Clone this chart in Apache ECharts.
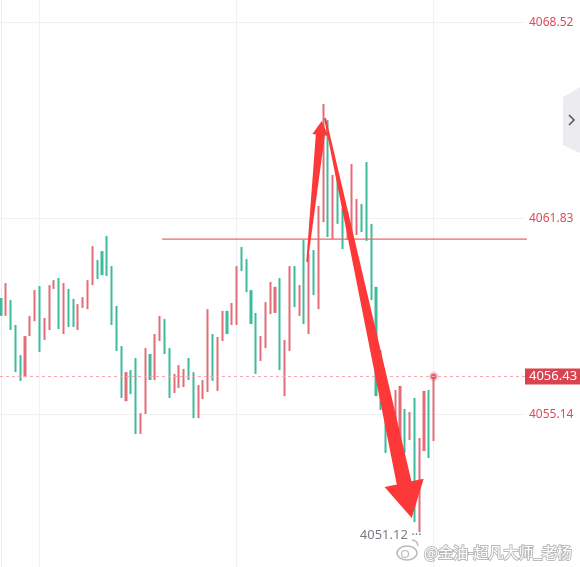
<!DOCTYPE html>
<html>
<head>
<meta charset="utf-8">
<title>黄金 K线</title>
<script src="https://cdn.jsdelivr.net/npm/echarts@6/dist/echarts.min.js"></script>
<style>
html, body { margin: 0; padding: 0; background: #fff; }
#kline { width: 580px; height: 567px; }
</style>
</head>
<body>
<div id="kline"></div>
<script>
var byId = function(id) {
	return document.getElementById(id);
};

// K线 开盘/收盘 (红涨绿跌)
var opens = [4059.11, 4058.50, 4059.04, 4058.19, 4057.16, 4056.41, 4057.81, 4058.32, 4059.52, 4057.68,
	4058.02, 4059.42, 4059.79, 4057.88, 4059.42, 4059.08, 4058.02, 4058.77, 4058.73, 4059.55,
	4060.41, 4060.71, 4061.23, 4060.20, 4058.84, 4057.47, 4055.59, 4056.65, 4057.06, 4054.47,
	4055.15, 4057.20, 4056.31, 4057.64, 4058.39, 4057.40, 4055.87, 4056.04, 4056.07, 4057.06,
	4056.58, 4055.01, 4055.66, 4055.90, 4057.88, 4055.94, 4057.64, 4058.67, 4058.19, 4058.19,
	4060.85, 4060.44, 4059.38, 4058.60, 4056.96, 4057.40, 4058.56, 4058.60, 4059.79, 4055.76,
	4057.30, 4060.20, 4058.50, 4061.09, 4057.88, 4060.75, 4058.73, 4061.70, 4065.18, 4061.12,
	4063.24, 4062.18, 4061.09, 4061.12, 4061.26, 4062.32, 4063.75, 4061.64, 4059.49, 4057.33,
	4055.80, 4054.26, 4054.54, 4053.99, 4055.32, 4054.26, 4055.70, 4051.12, 4053.89, 4055.97,
	4054.23];
var closes = [4058.50, 4059.62, 4058.02, 4056.58, 4056.28, 4057.81, 4058.50, 4059.38, 4057.27, 4058.43,
	4059.55, 4059.72, 4058.05, 4059.62, 4058.12, 4058.12, 4058.90, 4059.14, 4059.72, 4060.88,
	4059.76, 4059.89, 4059.86, 4058.19, 4057.30, 4055.70, 4056.58, 4055.83, 4054.47, 4055.18,
	4057.40, 4056.31, 4057.88, 4058.50, 4057.20, 4055.70, 4056.52, 4056.82, 4056.69, 4056.31,
	4055.01, 4056.14, 4056.31, 4058.73, 4056.28, 4057.78, 4058.67, 4057.88, 4058.94, 4060.20,
	4060.03, 4059.31, 4058.22, 4056.52, 4057.81, 4058.97, 4059.66, 4059.49, 4056.65, 4057.68,
	4060.20, 4058.80, 4059.55, 4058.22, 4060.61, 4059.21, 4062.25, 4065.73, 4061.19, 4063.31,
	4061.64, 4060.78, 4062.04, 4063.68, 4062.49, 4061.36, 4061.06, 4059.04, 4055.76, 4055.29,
	4053.82, 4055.46, 4055.97, 4056.11, 4053.82, 4055.22, 4051.46, 4054.33, 4055.94, 4053.65,
	4056.43];

var priceTicks = [4068.52, 4061.83, 4055.14];
var timeTicks = [8, 49, 90];
var lastPrice = 4056.43;
var lowIndex = 87;
var lowPrice = 4051.12;
// 画的水平线 (起止K线序号, 价格)
var levelLine = [[33.5, 4061.12], [112.1, 4061.12]];
// 两个箭头: [尾, 尖]
var arrowUp = [[63.66, 4060.34], [66.72, 4065.15]];
var arrowDown = [[67.40, 4065.25], [85.44, 4051.60]];

var upColor = '#e26d78';
var downColor = '#3dbb9d';
var gridColor = '#f1f1f5';

var candles = [];
for (var i = 0; i < opens.length; i++) {
	candles.push([i, opens[i], closes[i], Math.min(opens[i], closes[i]), Math.max(opens[i], closes[i])]);
}

var gridLines = [];
priceTicks.forEach(function(p) {
	gridLines.push({ yAxis: p, label: { formatter: p.toFixed(2) } });
});
timeTicks.forEach(function(t) {
	gridLines.push({ xAxis: t, label: { show: false } });
});

var chart = echarts.init(byId('kline'));
chart.setOption({
	animation: false,
	backgroundColor: '#fff',
	grid: { left: 0, right: 55, top: 0, bottom: 0 },
	xAxis: { type: 'value', min: -0.21, max: 109, show: false },
	yAxis: {
		type: 'value', position: 'right', min: 4049.93, max: 4069.28, scale: true,
		axisLine: { show: true, lineStyle: { color: '#ebecf0' } },
		axisTick: { show: false }, axisLabel: { show: false }, splitLine: { show: false }
	},
	series: [{
		// 网格线 + 右侧价格
		type: 'line', data: [], silent: true, z: 1,
		markLine: {
			silent: true, symbol: 'none', z: 1, animation: false,
			lineStyle: { color: gridColor, type: 'solid', width: 1 },
			label: { position: 'end', distance: 4, color: '#df4a58', fontSize: 12, fontFamily: 'Noto Sans' },
			data: gridLines
		}
	}, {
		type: 'candlestick',
		data: candles,
		encode: { x: 0, y: [1, 2, 3, 4] },
		barWidth: 2.6,
		itemStyle: { color: upColor, color0: downColor, borderColor: upColor, borderColor0: downColor, borderWidth: 0 },
		markLine: {
			silent: true, symbol: 'none', animation: false,
			lineStyle: { color: '#f0aab1', type: [3, 3], width: 1 },
			label: {
				position: 'end', distance: 0, color: '#fff', fontSize: 13, fontFamily: 'Noto Sans',
				backgroundColor: '#d9434f', padding: [2, 4, 1, 4],
				formatter: lastPrice.toFixed(2)
			},
			data: [{ yAxis: lastPrice }]
		}
	}, {
		type: 'line', data: levelLine, clip: false, symbol: 'none', silent: true, z: 3,
		lineStyle: { color: '#ef6767', width: 1.4 }
	}, {
		// 最低价标注
		type: 'scatter', data: [[lowIndex, lowPrice]], symbolSize: 1, silent: true,
		itemStyle: { color: 'transparent' },
		label: {
			show: true, position: 'left', distance: 2, offset: [5, 3], color: '#555a66', fontSize: 13, fontFamily: 'Noto Sans',
			formatter: function(p) { return p.value[1].toFixed(2) + ' ···'; }
		}
	}, {
		// 当前价圆点
		type: 'scatter', data: [[opens.length - 1, lastPrice]], symbolSize: 6, silent: true, z: 4,
		itemStyle: { color: '#de4856', borderColor: 'rgba(222,72,86,0.25)', borderWidth: 4 }
	}]
});

// 箭头 (数据坐标 -> 像素)
function arrowShape(a, tailW, shaftW, headW, headLen) {
	var t = chart.convertToPixel({ gridIndex: 0 }, a[0]);
	var p = chart.convertToPixel({ gridIndex: 0 }, a[1]);
	var dx = p[0] - t[0], dy = p[1] - t[1];
	var len = Math.sqrt(dx * dx + dy * dy);
	var ux = dx / len, uy = dy / len;
	var nx = -uy, ny = ux;
	var bx = p[0] - ux * headLen, by = p[1] - uy * headLen;
	var pts = [
		[t[0] + nx * tailW / 2, t[1] + ny * tailW / 2],
		[bx + nx * shaftW / 2, by + ny * shaftW / 2],
		[bx + nx * headW / 2, by + ny * headW / 2],
		[p[0], p[1]],
		[bx - nx * headW / 2, by - ny * headW / 2],
		[bx - nx * shaftW / 2, by - ny * shaftW / 2],
		[t[0] - nx * tailW / 2, t[1] - ny * tailW / 2]
	];
	return { type: 'polygon', z: 20, silent: true, shape: { points: pts }, style: { fill: '#fd3838' } };
}

var wmStroke = 'rgba(60,60,60,0.35)';
chart.setOption({
	graphic: [
		arrowShape(arrowUp, 1.5, 9, 16, 14),
		arrowShape(arrowDown, 2, 15, 40, 36),
		// 右侧折叠按钮
		{ type: 'polygon', z: 20, silent: true, shape: { points: [[563, 97], [580, 87], [580, 153], [563, 145]] }, style: { fill: '#ebebf0' } },
		{ type: 'polyline', z: 21, silent: true, shape: { points: [[569, 115], [574, 120], [569, 125]] }, style: { stroke: '#555', lineWidth: 1.5, fill: null } },
		// 水印
		{ type: 'ellipse', z: 20, silent: true, shape: { cx: 407, cy: 553, rx: 10, ry: 7 }, style: { fill: '#fff', stroke: wmStroke, lineWidth: 1.5 } },
		{ type: 'circle', z: 21, silent: true, shape: { cx: 405, cy: 554, r: 3.5 }, style: { fill: 'none', stroke: wmStroke, lineWidth: 1.2 } },
		{ type: 'arc', z: 21, silent: true, shape: { cx: 412, cy: 546, r: 6, startAngle: -Math.PI / 2, endAngle: 0 }, style: { fill: 'none', stroke: wmStroke, lineWidth: 1.5 } },
		{ type: 'text', z: 21, silent: true, x: 424, y: 552, style: {
			text: '@金油-超凡大师_老杨', fill: '#fff', stroke: wmStroke, lineWidth: 2,
			font: '15px "Noto Sans CJK SC"', verticalAlign: 'middle'
		} }
	]
});
</script>
</body>
</html>
